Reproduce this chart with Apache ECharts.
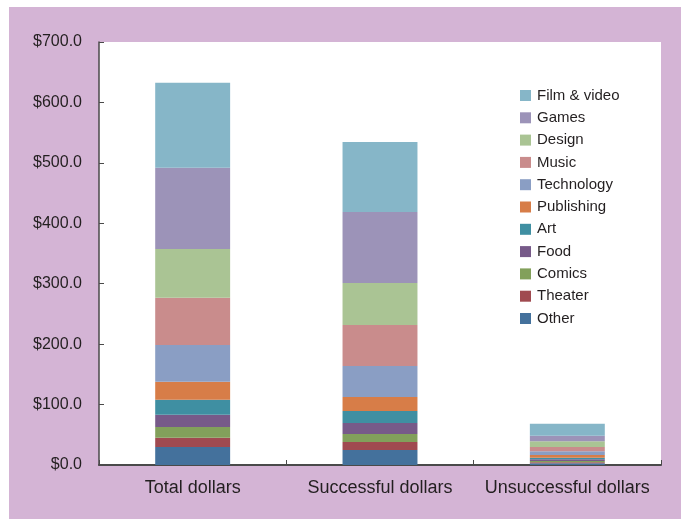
<!DOCTYPE html>
<html>
<head>
<meta charset="utf-8">
<script src="https://cdn.jsdelivr.net/npm/echarts@6/dist/echarts.min.js"></script>
<style>html,body{margin:0;padding:0;background:#fff;}#c{width:681px;height:519px;}</style>
</head>
<body>
<div id="c"></div>
<script>
const categories = ['Total dollars', 'Successful dollars', 'Unsuccessful dollars'];
const seriesNames = ['Other', 'Theater', 'Comics', 'Food', 'Art', 'Publishing', 'Technology', 'Music', 'Design', 'Games', 'Film & video'];
const other      = [29.8, 24.8, 2.8];
const theater    = [15.4, 13.3, 1.7];
const comics     = [17.7, 13.2, 2.1];
const food       = [20.4, 18.2, 2.8];
const art        = [24.8, 19.9, 2.7];
const publishing = [29.8, 23.1, 4.4];
const technology = [60.7, 51.3, 6.2];
const music      = [78.3, 67.9, 7.1];
const design     = [80.5, 69.5, 9.4];
const games      = [134.6, 117.5, 9.3];
const filmVideo  = [140.6, 115.8, 19.8];
const yTicks = [0, 100, 200, 300, 400, 500, 600, 700];

const values = [other, theater, comics, food, art, publishing, technology, music, design, games, filmVideo];
const colors = ['#44719c', '#a04a50', '#82a05b', '#775a89', '#3f8fa2', '#d77d48', '#8a9ec4', '#c98c8c', '#aac494', '#9c93b8', '#86b6c8'];

const chart = echarts.init(document.getElementById('c'), null, {renderer: 'canvas'});
const font = 'Liberation Sans, Arial, Helvetica, sans-serif';
chart.setOption({
  backgroundColor: '#ffffff',
  animation: false,
  graphic: {
    elements: [{
      type: 'rect', z: -100, silent: true,
      shape: {x: 9, y: 7, width: 680, height: 520},
      style: {fill: '#d4b4d5'}
    }]
  },
  grid: {
    left: 99, right: 20, top: 42, bottom: 54,
    show: true, backgroundColor: '#ffffff', borderWidth: 0
  },
  legend: {
    orient: 'vertical',
    left: 515, top: 83,
    data: seriesNames.slice().reverse(),
    icon: 'rect',
    itemWidth: 11, itemHeight: 11,
    itemGap: 7.3,
    textStyle: {fontFamily: font, fontSize: 15, color: '#231f20', lineHeight: 15, padding: [0, 0, 0, 1]}
  },
  xAxis: {
    type: 'category',
    data: categories,
    axisLine: {show: true, lineStyle: {color: '#4a4a4a', width: 2}},
    axisTick: {show: true, inside: true, length: 5, lineStyle: {color: '#4a4a4a', width: 1}},
    axisLabel: {fontFamily: font, fontSize: 18, color: '#231f20', margin: 14, interval: 0, hideOverlap: false},
    splitLine: {show: false}
  },
  yAxis: {
    type: 'value',
    min: 0, max: 700, interval: 100,
    axisLine: {show: true, lineStyle: {color: '#4a4a4a', width: 1.5}},
    axisTick: {show: true, inside: true, length: 5, lineStyle: {color: '#4a4a4a', width: 1}},
    axisLabel: {
      fontFamily: font, fontSize: 16, color: '#231f20', margin: 17,
      formatter: v => yTicks.includes(v) ? '$' + v.toFixed(1) : ''
    },
    splitLine: {show: false}
  },
  series: seriesNames.map((name, i) => ({
    name: name,
    type: 'bar',
    stack: 'total',
    barWidth: '40%',
    data: values[i],
    itemStyle: {color: colors[i]}
  }))
});
</script>
</body>
</html>
